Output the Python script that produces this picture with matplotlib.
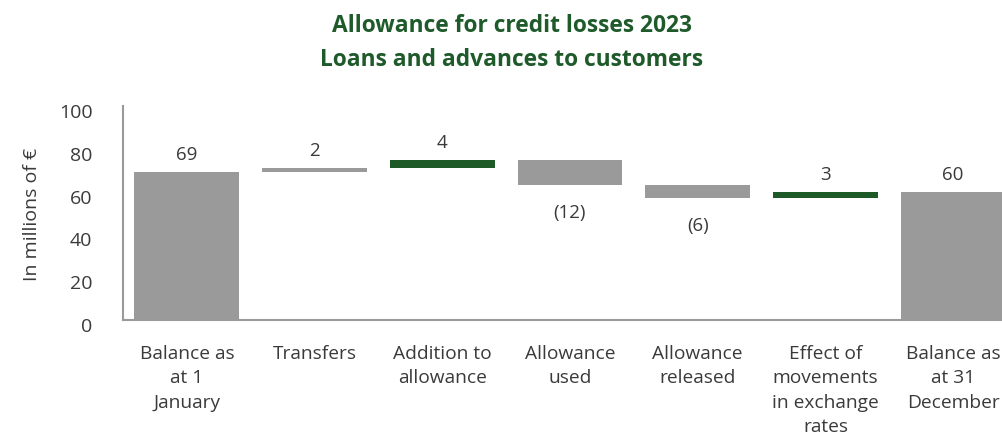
import matplotlib
matplotlib.use('Agg')
import matplotlib.pyplot as plt
import matplotlib.transforms as mtransforms
import numpy as np

plt.rcParams['font.family'] = ['Open Sans', 'DejaVu Sans']

categories = ['Balance as\nat 1\nJanuary', 'Transfers', 'Addition to\nallowance',
              'Allowance\nused', 'Allowance\nreleased', 'Effect of\nmovements\nin exchange\nrates',
              'Balance as\nat 31\nDecember']
opening = 69
movements = [2, 4, -12, -6, 3]
closing = 60
labels = ['69', '2', '4', '(12)', '(6)', '3', '60']
bar_colors = ['#9a9a9a', '#9a9a9a', '#1d5a28', '#9a9a9a', '#9a9a9a', '#1d5a28', '#9a9a9a']

GREEN = '#1f5a2b'
TEXT = '#3a3a3a'

# running totals for the floating bars
bottoms = [0]
heights = [opening]
level = opening
for m in movements:
    bottoms.append(min(level, level + m))
    heights.append(abs(m))
    level += m
bottoms.append(0)
heights.append(closing)

fig = plt.figure(figsize=(10.03, 4.39), dpi=100)
ax = fig.add_axes([123 / 1003, 118 / 439, 894 / 1003, 214 / 439])

x = np.arange(len(categories))
ax.bar(x, heights, bottom=bottoms, width=0.82, color=bar_colors, zorder=2)

tops = [b + h for b, h in zip(bottoms, heights)]
for i, lab in enumerate(labels):
    if lab.startswith('('):
        ax.annotate(lab, (x[i], bottoms[i]), xytext=(0, -27), textcoords='offset pixels',
                    ha='center', va='center', fontsize=13.5, color=TEXT)
    else:
        ax.annotate(lab, (x[i], tops[i]), xytext=(0, 18), textcoords='offset pixels',
                    ha='center', va='center', fontsize=13.5, color=TEXT)

ax.set_xlim(-0.5, 6.5)
ax.set_ylim(0, 100)
ax.set_yticks(range(0, 101, 20))
ax.set_xticks(x)
ax.set_xticklabels(categories, fontsize=13.8, color=TEXT, linespacing=1.47, va='top')
ax.tick_params(axis='x', length=0, pad=17)
ax.tick_params(axis='y', length=0, pad=22, labelsize=14, labelcolor=TEXT)
for t in ax.get_yticklabels():
    t.set_transform(t.get_transform() + mtransforms.ScaledTranslation(0, -4 / 100, fig.dpi_scale_trans))

for s in ['top', 'right']:
    ax.spines[s].set_visible(False)
for s in ['left', 'bottom']:
    ax.spines[s].set_color('#9a9a9a')
    ax.spines[s].set_linewidth(1.5)

fig.text(32 / 1003, 1 - 214 / 439, 'In millions of €', rotation=90, ha='center', va='center',
         fontsize=14, color=TEXT)
fig.text(512 / 1003, 1 - 43 / 439, 'Allowance for credit losses 2023\nLoans and advances to customers',
         ha='center', va='center', fontsize=16.4, fontweight='bold', color=GREEN, linespacing=1.5)

fig.savefig('out.png', dpi=100)
